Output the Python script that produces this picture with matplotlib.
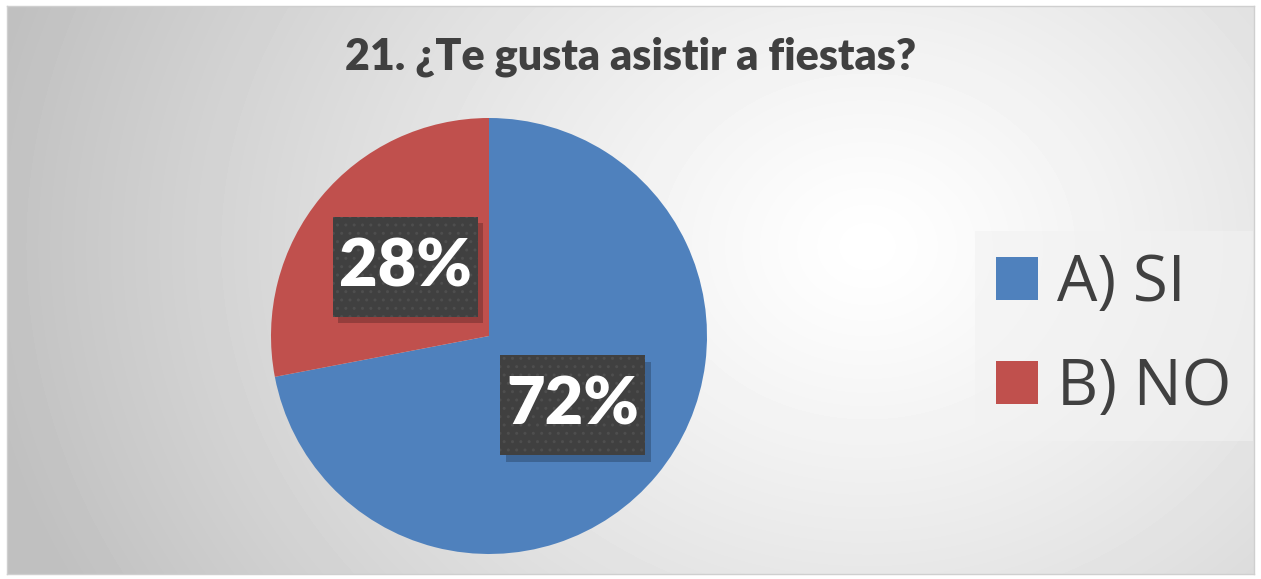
import numpy as np
import matplotlib.pyplot as plt
from matplotlib.patches import Rectangle

title = "21. ¿Te gusta asistir a fiestas?"
labels = ["A) SI", "B) NO"]
values = [72, 28]
colors = ["#4F81BD", "#C0504D"]

W, H = 1261, 579
fig = plt.figure(figsize=(W / 100, H / 100), dpi=100)
fig.patch.set_facecolor("white")

# background with radial gradient
bg = fig.add_axes([7 / W, 5 / H, 1247 / W, 568 / H])
yy, xx = np.mgrid[0:568, 0:1247]
r = np.hypot(xx - 860, (yy - 240) * 1.2) / 900.0
shade = 1.0 - 0.25 * np.clip(r, 0, 1) ** 1.2
bg.imshow(shade, cmap="gray", vmin=0, vmax=1, aspect="auto",
          extent=[0, 1247, 568, 0])
bg.set_xticks([])
bg.set_yticks([])
for s in bg.spines.values():
    s.set_color("#cfcfcf")
    s.set_linewidth(1)

fig.text(631 / W, 1 - 57 / H, title, ha="center", va="center",
         fontsize=31, fontweight="heavy", color="#404040", family="Lato")

# pie
cx, cy, rad = 489, 336, 218
ax = fig.add_axes([(cx - rad) / W, (H - cy - rad) / H, 2 * rad / W, 2 * rad / H])
ax.set_facecolor("none")
wedges, _, autotexts = ax.pie(values, colors=colors, startangle=90,
                              counterclock=False, autopct="%1.0f%%",
                              pctdistance=0.5, radius=1,
                              wedgeprops=dict(linewidth=0))
ax.set_xlim(-1, 1)
ax.set_ylim(-1, 1)
ax.set_aspect("equal")

bw, bh = 145 / rad, 100 / rad
for t in autotexts:
    x, y = t.get_position()
    ax.add_patch(Rectangle((x - bw / 2 + 0.025, y - bh / 2 - 0.03), bw, bh,
                           facecolor="black", alpha=0.22, lw=0, zorder=3))
    ax.add_patch(Rectangle((x - bw / 2, y - bh / 2), bw, bh,
                           facecolor="#404040", edgecolor="#4e4e4e",
                           hatch="..", lw=0, zorder=4))
    t.set_zorder(5)
    t.set_color("white")
    t.set_fontsize(48)
    t.set_fontweight("heavy")
    t.set_family("Lato")

leg = ax.legend(wedges, labels, loc="center left",
                bbox_to_anchor=((975 - (cx - rad)) / (2 * rad), 0.5),
                fontsize=46, frameon=True, fancybox=False,
                handlelength=0.66, handleheight=0.66, handletextpad=0.3,
                labelspacing=0.62, borderpad=0.33, borderaxespad=0)
leg.get_frame().set_facecolor("#f2f2f2")
leg.get_frame().set_alpha(0.6)
leg.get_frame().set_linewidth(0)
for t in leg.get_texts():
    t.set_color("#404040")
    t.set_family("Open Sans")

fig.savefig("out.png", dpi=100)
